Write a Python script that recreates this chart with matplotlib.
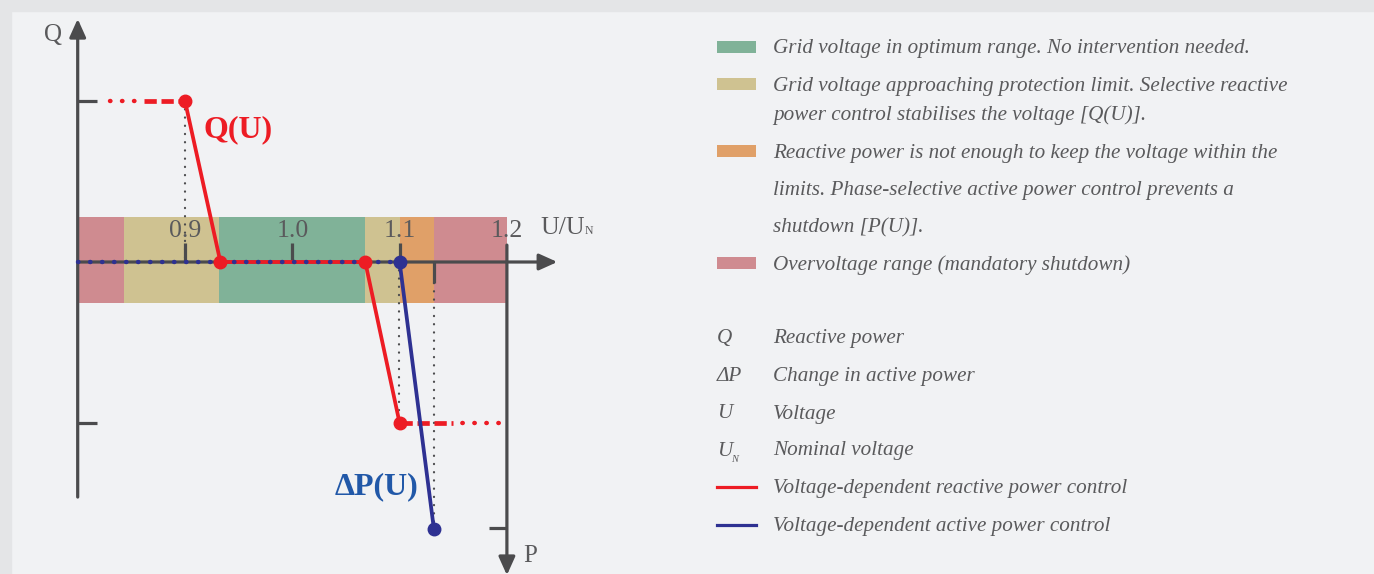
import matplotlib
matplotlib.use('Agg')
import matplotlib.pyplot as plt
from matplotlib.patches import Rectangle

W, H, DPI = 1374, 574, 100

# ---------------- data ----------------
u_ticks = [0.9, 1.0, 1.1, 1.2]
u_tick_labels = ['0.9', '1.0', '1.1', '1.2']
band_edges = [0.80, 0.843, 0.932, 1.068, 1.100, 1.132, 1.200]
band_zones = ['over', 'approach', 'optimum', 'approach', 'active', 'over']
band_q_low, band_q_high = -0.255, 0.28

qu_u = [0.900, 0.933, 1.068, 1.100]
qu_q = [1.0, 0.0, 0.0, -1.0]
qu_top_dot_u = [0.830, 0.862]
qu_top_dash_u = [0.862, 0.900]
qu_bot_dash_u = [1.100, 1.150]
qu_bot_dot_u = [1.150, 1.196]

dp_u = [1.100, 1.132]
dp_p = [0.0, -1.66]
dp_flat_u = [0.80, 1.10]

guide_u = [0.900, 1.099, 1.132]
guide_from = [1.0, 0.0, -0.13]
guide_to = [0.0, -1.0, -1.66]

q_ticks = [1.0, -1.0]
p_tick = -1.65

zone_labels = [
    ('optimum', ['Grid voltage in optimum range. No intervention needed.']),
    ('approach', ['Grid voltage approaching protection limit. Selective reactive',
                  'power control stabilises the voltage [Q(U)].']),
    ('active', ['Reactive power is not enough to keep the voltage within the',
                'limits. Phase-selective active power control prevents a',
                'shutdown [P(U)].']),
    ('over', ['Overvoltage range (mandatory shutdown)']),
]
symbol_labels = [('Q', '', 'Reactive power'),
                 ('ΔP', '', 'Change in active power'),
                 ('U', '', 'Voltage'),
                 ('U', 'N', 'Nominal voltage')]
line_labels = [('red', 'Voltage-dependent reactive power control'),
               ('blue', 'Voltage-dependent active power control')]

# ---------------- styles ----------------
zone_colors = {'optimum': '#80b298', 'approach': '#cfc291',
               'active': '#e0a068', 'over': '#cf8b90'}
RED = '#ed1c24'
BLUE = '#2e3192'
LBLUE = '#2158a8'
AXC = '#4b4b4d'
TXT = '#5a5a5c'
BG = '#f1f2f4'
EDGE = '#e4e5e7'
SERIF = ['Liberation Serif', 'DejaVu Serif']

fig = plt.figure(figsize=(W / DPI, H / DPI), dpi=DPI, facecolor=BG)
fig.patches.append(Rectangle((0, 1 - 11 / H), 1, 11 / H, transform=fig.transFigure,
                             color=EDGE, zorder=0))
fig.patches.append(Rectangle((0, 0), 11 / W, 1, transform=fig.transFigure,
                             color=EDGE, zorder=0))

# axes placement: u=0.9 at px 185, 1073 px per unit; Q=0 at py 262, 161 px per unit
X0, XS, Y0, YS = 185, 1073, 262, 161
xlim = (0.75, 1.30)
ylim = (-2.0, 1.6)
lpx = X0 + (xlim[0] - 0.9) * XS
rpx = X0 + (xlim[1] - 0.9) * XS
tpx = Y0 - ylim[1] * YS
bpx = Y0 - ylim[0] * YS
ax = fig.add_axes([lpx / W, 1 - bpx / H, (rpx - lpx) / W, (bpx - tpx) / H])
ax.set_xlim(*xlim)
ax.set_ylim(*ylim)
ax.axis('off')
ax.patch.set_alpha(0)

# bands
for i, z in enumerate(band_zones):
    ax.add_patch(Rectangle((band_edges[i], band_q_low), band_edges[i + 1] - band_edges[i],
                           band_q_high - band_q_low, color=zone_colors[z], lw=0, zorder=1))

# axes lines with arrows
arrow = dict(arrowstyle='-|>,head_length=1.0,head_width=0.45', color=AXC, lw=2.3,
             mutation_scale=11, shrinkA=0, shrinkB=0)
ax.annotate('', xy=(0.80, 1.51), xytext=(0.80, -1.46), arrowprops=arrow, zorder=3)
ax.annotate('', xy=(1.247, 0.0), xytext=(0.80, 0.0), arrowprops=arrow, zorder=3)
ax.annotate('', xy=(1.20, -1.945), xytext=(1.20, 0.105), arrowprops=arrow, zorder=3)

# ticks
for q in q_ticks:
    ax.plot([0.80, 0.818], [q, q], color=AXC, lw=2.3, zorder=3, solid_capstyle='butt')
for u in u_ticks[:3]:
    ax.plot([u, u], [0, 0.118], color=AXC, lw=2.3, zorder=3, solid_capstyle='butt')
ax.plot([dp_u[1], dp_u[1]], [0, -0.13], color=AXC, lw=2.3, zorder=3, solid_capstyle='butt')
ax.plot([1.183, 1.20], [p_tick, p_tick], color=AXC, lw=2.3, zorder=3, solid_capstyle='butt')

for u, lab in zip(u_ticks, u_tick_labels):
    ax.text(u, 0.155, lab, ha='center', va='baseline', fontsize=18.5, color=TXT,
            family=SERIF, zorder=4)

# guides
for u, a, b in zip(guide_u, guide_from, guide_to):
    ax.plot([u, u], [a, b], color=AXC, lw=1.6, ls=(0, (0.1, 3.6)),
            dash_capstyle='round', zorder=2)

# Q(U) curve
ax.plot(qu_u, qu_q, color=RED, lw=2.7, zorder=5, solid_joinstyle='round')
ax.plot(qu_top_dot_u, [1, 1], color=RED, lw=3.2, ls=(0, (0.1, 2.6)),
        dash_capstyle='round', zorder=5)
ax.plot(qu_top_dash_u, [1, 1], color=RED, lw=3.4, ls=(0, (2.6, 1.0)), zorder=5)
ax.plot(qu_bot_dash_u, [-1, -1], color=RED, lw=3.4, ls=(0, (2.6, 1.0)), zorder=5)
ax.plot(qu_bot_dot_u, [-1, -1], color=RED, lw=3.2, ls=(0.6, (0.1, 2.6)),
        dash_capstyle='round', zorder=5)
ax.plot(qu_u, qu_q, ls='none', marker='o', ms=9, color=RED, zorder=7)

# dP(U) curve
ax.plot(dp_flat_u, [0, 0], color=BLUE, lw=3.2, ls=(0, (0.1, 2.6)),
        dash_capstyle='round', zorder=6)
ax.plot(dp_u, dp_p, color=BLUE, lw=2.7, zorder=5)
ax.plot(dp_u, dp_p, ls='none', marker='o', ms=9, color=BLUE, zorder=7)

# curve labels
ax.text(0.917, 0.775, 'Q(U)', color=RED, fontsize=23, fontweight='bold',
        family=SERIF, va='baseline', ha='left', zorder=8)
ax.text(1.039, -1.445, 'ΔP(U)', color=LBLUE, fontsize=23, fontweight='bold',
        family=SERIF, va='baseline', ha='left', zorder=8)

# axis labels (figure pixel placement)
def fx(x):
    return x / W

def fy(y):
    return 1 - y / H

fig.text(fx(53), fy(41), 'Q', ha='center', va='baseline', fontsize=18, color=TXT, family=SERIF)
fig.text(fx(523), fy(562), 'P', ha='left', va='baseline', fontsize=18, color=TXT, family=SERIF)
fig.text(fx(540), fy(234), 'U/U', ha='left', va='baseline', fontsize=18.5, color=TXT, family=SERIF)
fig.text(fx(585), fy(234), 'N', ha='left', va='baseline', fontsize=8.5, color=TXT, family=SERIF)

# legend: zones
SW_X0, SW_X1, TX = 717, 756, 773
zone_swatch_y = [47, 84, 151, 263]
zone_line_base = [[53], [90.5, 120], [158, 195, 232], [270]]
for (z, lines), sy, bases in zip(zone_labels, zone_swatch_y, zone_line_base):
    fig.patches.append(Rectangle((fx(SW_X0), fy(sy + 6)), (SW_X1 - SW_X0) / W, 12 / H,
                                 transform=fig.transFigure, color=zone_colors[z], lw=0))
    for ln, b in zip(lines, bases):
        fig.text(fx(TX), fy(b), ln, ha='left', va='baseline', fontsize=15.2, color=TXT,
                 family=SERIF, style='italic')

sym_base = [343, 381, 418.5, 455.5]
for (s, sub, desc), b in zip(symbol_labels, sym_base):
    fig.text(fx(717), fy(b), s, ha='left', va='baseline', fontsize=15.2, color=TXT,
             family=SERIF, style='italic')
    if sub:
        fig.text(fx(731.5), fy(b + 6.5), sub, ha='left', va='baseline', fontsize=7.5,
                 color=TXT, family=SERIF, style='italic')
    fig.text(fx(TX), fy(b), desc, ha='left', va='baseline', fontsize=15.2, color=TXT,
             family=SERIF, style='italic')

line_base = [493.5, 531]
line_colors = {'red': RED, 'blue': BLUE}
for (c, desc), b in zip(line_labels, line_base):
    yy = b - 6.5
    fig.add_artist(plt.Line2D([fx(SW_X0), fx(SW_X1)], [fy(yy), fy(yy)],
                              transform=fig.transFigure, color=line_colors[c], lw=2.3))
    fig.text(fx(TX), fy(b), desc, ha='left', va='baseline', fontsize=15.2, color=TXT,
             family=SERIF, style='italic')

fig.savefig('out.png', dpi=DPI, facecolor=BG)
